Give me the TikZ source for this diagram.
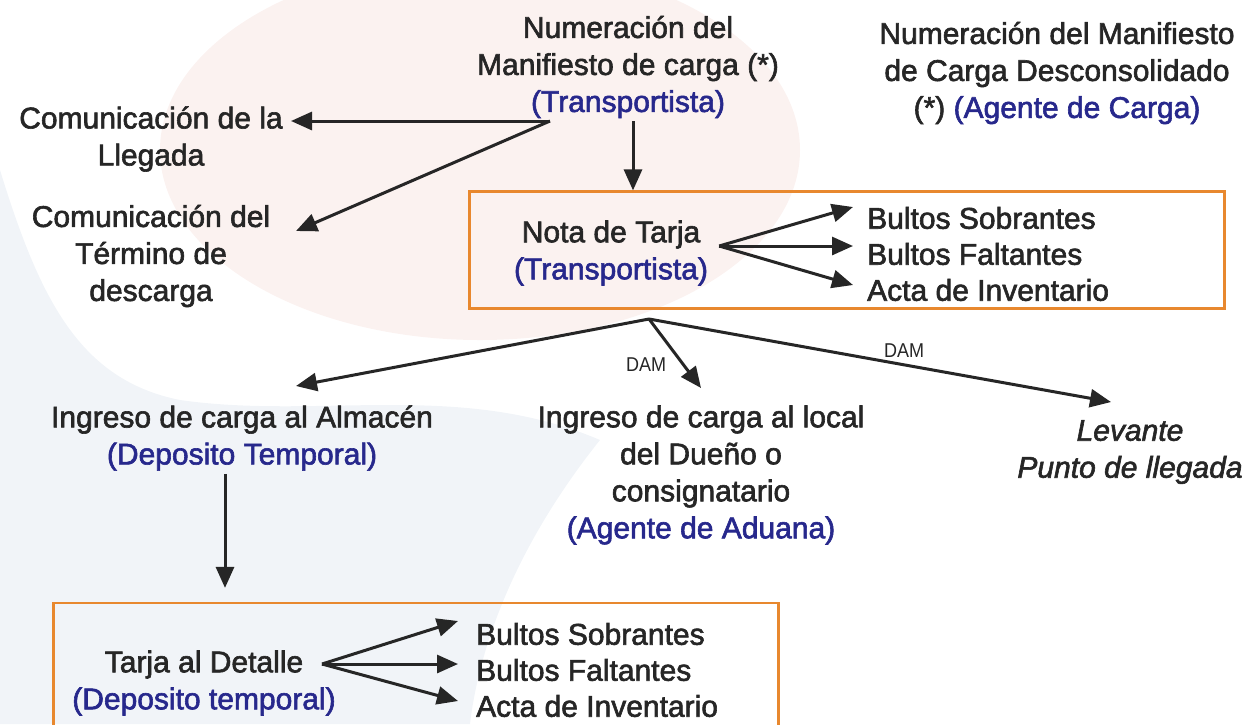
\documentclass[tikz,border=0pt]{standalone}
\usepackage{fontspec}
\setmainfont{Liberation Sans}[FakeBold=2]
\newfontfamily\damfont{Liberation Sans}[FakeStretch=0.9]
\usepackage{tikz}
\usetikzlibrary{arrows.meta}
\usetikzlibrary{positioning}

\definecolor{boxOrange}{HTML}{E8882E}
\definecolor{agentBlue}{HTML}{27288C}
\definecolor{inkGray}{HTML}{262626}
\definecolor{bgPink}{HTML}{FBF2F0}
\definecolor{bgBlue}{HTML}{F1F4F8}

\newcommand{\agent}[1]{\textcolor{agentBlue}{#1}}

\begin{document}
\begin{tikzpicture}
      [x=1pt,y=-1pt,
       stepText/.style={align=center,text=inkGray,font=\fontsize{30}{37}\selectfont,inner sep=3pt},
       resultText/.style={anchor=west,text=inkGray,font=\fontsize{30}{37}\selectfont,inner sep=3pt,node distance=36pt},
       tarjaBox/.style={rectangle,draw=boxOrange,line width=2.2pt},
       flow/.style={draw=inkGray,line width=3pt,-{Triangle[length=21pt,width=18pt]}},
       damText/.style={font=\damfont\fontsize{20}{24}\selectfont,text=inkGray,inner sep=2pt}]
      \clip (0,0) rectangle (1249,724);
      % faint background
      \fill[bgPink] (480,150) ellipse [x radius=320, y radius=190];
      \fill[bgBlue] (0,170) .. controls (40,300) and (80,380) .. (180,400)
        .. controls (320,420) and (460,380) .. (600,440)
        .. controls (520,540) and (480,640) .. (470,724) -- (0,724) -- cycle;

      % top row
      \node[stepText] (numMan) at (628,67) {Numeración del\\Manifiesto de carga (*)\\\agent{(Transportista)}};
      \node[stepText] (numDes) at (1057,73) {Numeración del Manifiesto\\de Carga Desconsolidado\\(*) \agent{(Agente de Carga)}};
      \node[stepText] (comLleg) at (151,139) {Comunicación de la\\Llegada};
      \node[stepText] (comTerm) at (151,256) {Comunicación del\\Término de\\descarga};
      \coordinate (numSplit) at (550,121);

      % nota de tarja
      \node[tarjaBox,minimum width=755pt,minimum height=117pt] (notaBox) at (847,250) {};
      \node[stepText] (notaTxt) at (611,253) {Nota de Tarja\\\agent{(Transportista)}};
      \coordinate (notaFan) at ([xshift=8pt,yshift=7pt]notaTxt.east);
      \node[resultText] (sob1) at (864,218) {Bultos Sobrantes};
      \node[resultText] (fal1) [below=of sob1.west,anchor=west] {Bultos Faltantes};
      \node[resultText] (inv1) [below=of fal1.west,anchor=west] {Acta de Inventario};

      % destinations
      \coordinate (notaSplit) at (649,319);
      \node[stepText] (almacen) at (242,438) {Ingreso de carga al Almacén\\\agent{(Deposito Temporal)}};
      \node[stepText] (local) at (701,475) {Ingreso de carga al local\\del Dueño o\\consignatario\\\agent{(Agente de Aduana)}};
      \node[stepText,font=\fontsize{30}{37}\selectfont\itshape] (levante) at (1130,452) {Levante\\Punto de llegada};

      % tarja al detalle
      \node[tarjaBox,minimum width=725pt,minimum height=154pt] (detBox) at (416,680) {};
      \node[stepText] (detTxt) at (204,683) {Tarja al Detalle\\\agent{(Deposito temporal)}};
      \coordinate (detFan) at ([xshift=118pt,yshift=19pt]detTxt.center);
      \node[resultText] (sob2) at (473,634) {Bultos Sobrantes};
      \node[resultText] (fal2) [below=of sob2.west,anchor=west] {Bultos Faltantes};
      \node[resultText] (inv2) [below=of fal2.west,anchor=west] {Acta de Inventario};

      % connectors
      \draw[flow] (numSplit) -- ([xshift=140pt]numSplit -| comLleg.center);
      \draw[flow] (numSplit) -- ([xshift=145pt,yshift=25pt]comTerm.center);
      \draw[flow] ([xshift=5pt]numMan.south) -- ([xshift=5pt]numMan.south |- notaBox.north);
      \draw[flow] (notaFan) -- ([xshift=-11pt,yshift=11pt]sob1.west);
      \draw[flow] (notaFan) -- ([xshift=-11pt]notaFan -| fal1.west);
      \draw[flow] (notaFan) -- ([xshift=-11pt,yshift=5pt]inv1.west);
      \draw[flow] (notaSplit) -- ([xshift=54pt,yshift=52pt]almacen.center);
      \draw[flow] (notaSplit) -- ([yshift=87pt]local.center)
        node[damText,pos=0.667,left=14pt] (dam1) {DAM};
      \draw[flow] (notaSplit) -- ([xshift=-19pt,yshift=50pt]levante.center)
        node[damText,pos=0.552,above=4pt] (dam2) {DAM};
      \draw[flow] ([xshift=-17pt]almacen.south) -- ([xshift=-17pt,yshift=14pt]almacen.south |- detBox.north);
      \draw[flow] (detFan) -- ([xshift=-15pt,yshift=13pt]sob2.west);
      \draw[flow] (detFan) -- ([xshift=-15pt]detFan -| fal2.west);
      \draw[flow] (detFan) -- ([xshift=-15pt,yshift=5pt]inv2.west);
    \end{tikzpicture}
\end{document}
